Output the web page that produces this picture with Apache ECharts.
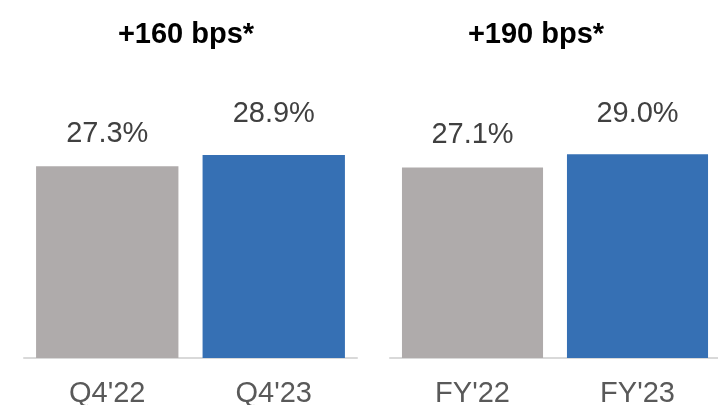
<!DOCTYPE html>
<html>
<head>
<meta charset="utf-8">
<script src="https://cdn.jsdelivr.net/npm/echarts@6/dist/echarts.min.js"></script>
<style>
  html, body { margin: 0; padding: 0; background: #fff; }
  #chart { width: 718px; height: 405px; }
</style>
</head>
<body>
<div id="chart"></div>
<script>
// data
const quarterCats = ["Q4'22", "Q4'23"];
const quarterVals = [27.3, 28.9];
const yearCats = ["FY'22", "FY'23"];
const yearVals = [27.1, 29.0];
const titles = ["+160 bps*", "+190 bps*"];

const GREY = '#AFABAB';
const BLUE = '#3670B4';
const FONT = '"Liberation Sans", Arial, sans-serif';

// first bar grey (prior year), second blue (current); current label sits a bit higher
function barData(vals) {
  return vals.map((v, i) => ({
    value: v,
    itemStyle: { color: i === 0 ? GREY : BLUE },
    label: { distance: i === 0 ? 18 : 26 }
  }));
}

function xAxisOf(cats, gridIndex) {
  return {
    type: 'category',
    gridIndex: gridIndex,
    data: cats,
    axisTick: { show: false },
    axisLine: { show: true, lineStyle: { color: '#D9D9D9', width: 2 } },
    axisLabel: { color: '#595959', fontSize: 29, fontFamily: FONT, margin: 21 }
  };
}

function yAxisOf(gridIndex) {
  return {
    type: 'value',
    gridIndex: gridIndex,
    min: 0,
    max: 40,
    show: false,
    splitLine: { show: false }
  };
}

function seriesOf(vals, idx) {
  return {
    type: 'bar',
    xAxisIndex: idx,
    yAxisIndex: idx,
    data: barData(vals),
    barCategoryGap: '14.5%',
    label: {
      show: true,
      position: 'top',
      color: '#404040',
      fontSize: 29,
      fontFamily: FONT,
      formatter: p => p.value.toFixed(1) + '%'
    }
  };
}

const chart = echarts.init(document.getElementById('chart'));
chart.setOption({
  animation: false,
  title: [
    { text: titles[0], left: 181, top: 15, textAlign: 'center',
      textStyle: { fontSize: 29, fontWeight: 'bold', color: '#000', fontFamily: FONT } },
    { text: titles[1], left: 531, top: 15, textAlign: 'center',
      textStyle: { fontSize: 29, fontWeight: 'bold', color: '#000', fontFamily: FONT } }
  ],
  grid: [
    { left: 24, width: 333, top: 77, bottom: 47, outerBoundsMode: 'none' },
    { left: 390, width: 330, top: 77, bottom: 47, outerBoundsMode: 'none' }
  ],
  xAxis: [xAxisOf(quarterCats, 0), xAxisOf(yearCats, 1)],
  yAxis: [yAxisOf(0), yAxisOf(1)],
  series: [seriesOf(quarterVals, 0), seriesOf(yearVals, 1)]
});
</script>
</body>
</html>
